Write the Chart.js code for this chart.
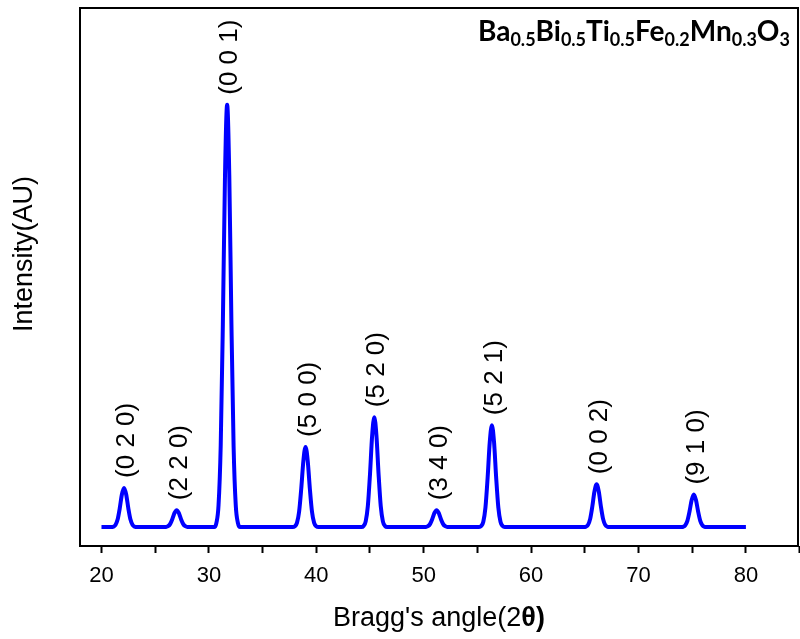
<!DOCTYPE html>
<html>
<head>
<meta charset="utf-8">
<script src="https://cdn.jsdelivr.net/npm/chart.js@4.4.1/dist/chart.umd.min.js"></script>
<style>
  html, body { margin: 0; padding: 0; background: #fff; }
</style>
</head>
<body>
<canvas id="xrd" width="800" height="639"></canvas>
<script>
// XRD pattern (2 theta, intensity in arbitrary units)
const angles = [
  20,
  20.9, 21.1, 21.3, 21.5, 21.7, 21.9, 22.1, 22.3, 22.5, 22.7, 22.9, 23.1, 23.3,
  25.8, 26.0, 26.2, 26.4, 26.6, 26.8, 27.0, 27.2, 27.4, 27.6, 27.8, 28.0, 28.2,
  30.5, 30.7, 30.9, 31.1, 31.3, 31.5, 31.7, 31.9, 32.1, 32.3, 32.5, 32.7, 32.9,
  37.8, 38.0, 38.2, 38.4, 38.6, 38.8, 39.0, 39.2, 39.4, 39.6, 39.8, 40.0, 40.2,
  44.2, 44.4, 44.6, 44.8, 45.0, 45.2, 45.4, 45.6, 45.8, 46.0, 46.2, 46.4, 46.6,
  50.0, 50.2, 50.4, 50.6, 50.8, 51.0, 51.2, 51.4, 51.6, 51.8, 52.0, 52.2, 52.4,
  55.15, 55.35, 55.55, 55.75, 55.95, 56.15, 56.35, 56.55, 56.75, 56.95, 57.15, 57.35, 57.55,
  64.9, 65.1, 65.3, 65.5, 65.7, 65.9, 66.1, 66.3, 66.5, 66.7, 66.9, 67.1, 67.3,
  73.95, 74.15, 74.35, 74.55, 74.75, 74.95, 75.15, 75.35, 75.55, 75.75, 75.95, 76.15, 76.35,
  80
]
const intensity = [
  0,
  0, 0.08, 0.44, 1.59, 3.98, 6.91, 8.3, 6.91, 3.98, 1.59, 0.44, 0.08, 0,
  0, 0.04, 0.19, 0.69, 1.73, 3.0, 3.6, 3.0, 1.73, 0.69, 0.19, 0.04, 0,
  0, 0.9, 4.7, 17.2, 43.0, 74.5, 89.5, 74.5, 43.0, 17.2, 4.7, 0.9, 0,
  0, 0.17, 0.9, 3.26, 8.16, 14.1, 17.0, 14.1, 8.16, 3.26, 0.9, 0.17, 0,
  0, 0.23, 1.23, 4.47, 11.2, 19.4, 23.3, 19.4, 11.2, 4.47, 1.23, 0.23, 0,
  0, 0.04, 0.19, 0.69, 1.73, 3.0, 3.6, 3.0, 1.73, 0.69, 0.19, 0.04, 0,
  0, 0.22, 1.14, 4.15, 10.4, 18.0, 21.6, 18.0, 10.4, 4.15, 1.14, 0.22, 0,
  0, 0.09, 0.48, 1.75, 4.37, 7.57, 9.1, 7.57, 4.37, 1.75, 0.48, 0.09, 0,
  0, 0.07, 0.37, 1.32, 3.31, 5.74, 6.9, 5.74, 3.31, 1.32, 0.37, 0.07, 0,
  0
]

// Miller indices written over the peaks
const peakAngles = [22.1, 27.0, 31.7, 39.0, 45.4, 51.2, 56.35, 66.1, 75.15]
const peakHeights = [8.3, 3.6, 89.5, 17.0, 23.3, 3.6, 21.6, 9.1, 6.9]
const peakLabels = ["(0 2 0)", "(2 2 0)", "(0 0 1)", "(5 0 0)", "(5 2 0)", "(3 4 0)", "(5 2 1)", "(0 0 2)", "(9 1 0)"]

const xMajorTicks = [20, 30, 40, 50, 60, 70, 80]
const xMinorTicks = [25, 35, 45, 55, 65, 75, 85]

// formula as [text, isSubscript]
const formulaParts = [
  ["Ba", false], ["0.5", true], ["Bi", false], ["0.5", true], ["Ti", false], ["0.5", true],
  ["Fe", false], ["0.2", true], ["Mn", false], ["0.3", true], ["O", false], ["3", true]
]

const FONT = '"Liberation Sans", Arial, sans-serif'

const annotations = {
  id: "annotations",
  afterDraw(chart) {
    const { ctx, chartArea: a, scales: { x, y } } = chart
    ctx.save()

    // frame
    ctx.strokeStyle = "#000"
    ctx.lineWidth = 2
    ctx.strokeRect(a.left, a.top, a.right - a.left, a.bottom - a.top)

    // peak labels, rotated
    ctx.fillStyle = "#000"
    ctx.font = "26px " + FONT
    ctx.textAlign = "left"
    ctx.textBaseline = "middle"
    peakLabels.forEach((label, i) => {
      const px = x.getPixelForValue(peakAngles[i]) + 3
      const py = y.getPixelForValue(peakHeights[i]) - 10
      ctx.save()
      ctx.translate(px, py)
      ctx.rotate(-Math.PI / 2)
      ctx.fillText(label, 0, 0)
      ctx.restore()
    })

    // y title
    ctx.save()
    ctx.translate(25, 254)
    ctx.rotate(-Math.PI / 2)
    ctx.textAlign = "center"
    ctx.font = "27px " + FONT
    ctx.fillText("Intensity(AU)", 0, 0)
    ctx.restore()

    // x title with bold theta
    ctx.textBaseline = "alphabetic"
    const parts = [["Bragg's angle(2", "27px " + FONT], ["\u03B8)", "bold 27px " + FONT]]
    let total = 0
    parts.forEach(p => { ctx.font = p[1]; total += ctx.measureText(p[0]).width })
    let cx = (a.left + a.right) / 2 - total / 2
    parts.forEach(p => {
      ctx.font = p[1]
      ctx.fillText(p[0], cx, 626)
      cx += ctx.measureText(p[0]).width
    })

    // compound formula
    let fx = 478
    formulaParts.forEach(([txt, sub]) => {
      ctx.font = sub ? "bold 18px Lato, sans-serif" : "bold 28px Lato, sans-serif"
      ctx.fillText(txt, fx, sub ? 46 : 41)
      fx += ctx.measureText(txt).width
    })

    ctx.restore()
  }
}

new Chart(document.getElementById("xrd"), {
  type: "line",
  data: {
    datasets: [{
      data: angles.map((a, i) => ({ x: a, y: intensity[i] })),
      borderColor: "#0000ff",
      borderWidth: 4,
      pointRadius: 0,
      fill: false,
      cubicInterpolationMode: "monotone",
      borderJoinStyle: "round"
    }]
  },
  options: {
    responsive: false,
    animation: false,
    devicePixelRatio: 1,
    layout: { padding: { top: 8, right: 2, left: 0, bottom: 0 } },
    plugins: { legend: { display: false }, tooltip: { enabled: false } },
    scales: {
      x: {
        type: "linear",
        min: 18,
        max: 84.85,
        afterBuildTicks: scale => {
          scale.ticks = [...xMajorTicks, ...xMinorTicks].sort((p, q) => p - q).map(v => ({ value: v }))
        },
        afterFit: scale => {
          scale.height = 93
          scale.paddingLeft = 0
          scale.paddingRight = 0
        },
        border: { display: false },
        grid: {
          drawOnChartArea: false,
          drawTicks: true,
          tickLength: 7,
          tickColor: "#000",
          tickWidth: 2
        },
        ticks: {
          color: "#000",
          font: { family: FONT, size: 22 },
          padding: 10,
          maxRotation: 0,
          autoSkip: false,
          callback: v => xMajorTicks.includes(v) ? String(v) : ""
        }
      },
      y: {
        min: -4,
        max: 110,
        afterFit: scale => { scale.width = 80 },
        border: { display: false },
        grid: { display: false },
        ticks: { display: false }
      }
    }
  },
  plugins: [annotations]
})
</script>
</body>
</html>
